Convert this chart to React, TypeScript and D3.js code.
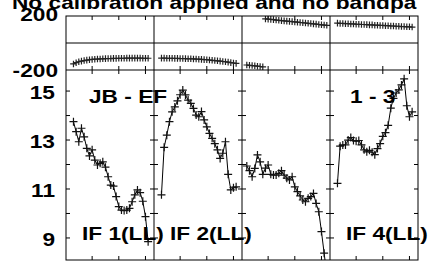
import React from 'react';
import * as d3 from 'd3';

const title = 'No calibration applied and no bandpa';
const baselineLabel = 'JB - EF';
const sourceLabel = '1 - 3';
const ifLabels = ['IF 1(LL)', 'IF 2(LL)', '', 'IF 4(LL)'];
const firstChannel = [3, 3, 2, 3];

const amp1 = [13.75, 13.34, 12.93, 13.48, 13.13, 12.66, 12.35, 12.6, 12.18, 11.98, 12.05, 12.11, 11.89, 11.5, 11.16, 11.12, 10.69, 10.28, 10.14, 10.12, 10.14, 10.21, 10.48, 10.76, 10.96, 10.85, 10.5, 9.87, 8.85];
const amp2 = [10.76, 12.7, 13.2, 13.75, 14.15, 14.35, 14.6, 14.85, 15.04, 14.84, 14.63, 14.5, 14.29, 14.02, 13.95, 14.16, 13.82, 13.54, 13.27, 13.07, 12.85, 12.6, 12.25, 12.46, 12.93, 11.6, 10.96, 11.05, 11.09];
const amp3 = [11.94, 11.75, 11.5, 11.84, 12.39, 12.11, 11.6, 11.85, 11.98, 11.6, 11.57, 11.57, 11.64, 11.75, 11.57, 11.44, 11.37, 11.5, 11.09, 10.89, 10.72, 10.55, 10.48, 10.62, 10.69, 10.82, 10.41, 10.07, 9.26, 8.38, 7.5];
const amp4 = [11.23, 12.75, 12.8, 12.8, 13.0, 13.1, 12.98, 12.95, 12.98, 12.8, 12.6, 12.52, 12.58, 12.5, 12.4, 12.65, 12.85, 13.15, 13.3, 13.6, 14.3, 14.7, 14.92, 15.05, 15.25, 15.5, 14.4, 13.95, 14.15];

const phase1 = [-155, -146, -139, -134, -130, -127, -124, -122, -120, -119, -118, -117, -116, -115, -115, -114, -114, -113, -113, -113, -112, -112, -112, -112, -112, -112, -113, -113, -113];
const phase2 = [-112, -112, -113, -113, -113, -114, -114, -115, -115, -116, -117, -117, -118, -119, -120, -121, -123, -124, -126, -128, -130, -132, -134, -137, -139, -142, -145, -148, -151];
const phase3 = [-163, -165, -167, -169, -172, -174, -177, 179, 177, 175, 173, 170, 168, 166, 164, 162, 160, 158, 156, 154, 152, 150, 148, 146, 144, 142, 140, 137, 135, 133, 131];
const phase4 = [147, 145, 145, 143, 143, 141, 141, 139, 139, 137, 137, 136, 134, 134, 132, 132, 130, 130, 128, 128, 126, 126, 124, 124, 122, 122, 120, 120, 118];

const ampSeries = [amp1, amp2, amp3, amp4];
const phaseSeries = [phase1, phase2, phase3, phase4];
const ampTicks = [9, 10, 11, 12, 13, 14, 15];
const ampTickLabels = [15, 13, 11, 9];
const phaseTickLabels = [200, -200];
const channelTicks = [10, 20, 30];

const plotLeft = 66;
const panelW = 88;
const phaseTop = 16;
const phaseBottom = 70;
const ampBottom = 260;
const plotRight = plotLeft + panelW * 4;
const SX = 1.26;
const font = "'Liberation Sans', Arial, Helvetica, sans-serif";

const yAmp = d3.scaleLinear().domain([8.1, 15.86]).range([ampBottom, phaseBottom]);
const yPhase = d3.scaleLinear().domain([-200, 200]).range([phaseBottom, phaseTop]);

function Label({ x, y, anchor = 'start', children }: any) {
  return (
    <text transform={`translate(${x},${y}) scale(${SX},1)`} textAnchor={anchor}
      fontFamily={font} fontWeight="bold" fontSize={18} fill="#000">{children}</text>
  );
}

function plus(x: number, y: number, s: number) {
  return `M${x - s},${y}H${x + s}M${x},${y - s}V${y + s}`;
}

function Panel({ i }: { i: number }) {
  const x0 = plotLeft + i * panelW;
  const x = d3.scaleLinear().domain([0.2, 33.2]).range([x0, x0 + panelW]);
  const amp = ampSeries[i].map((v, k) => ({ ch: firstChannel[i] + k, v }));
  const ph = phaseSeries[i].map((v, k) => ({ ch: firstChannel[i] + k, v }));
  const ampLine = d3.line<any>().x(d => x(d.ch)).y(d => yAmp(d.v));
  // break the phase line where it wraps
  const phSegs: any[][] = [];
  ph.forEach((d, k) => {
    if (k === 0 || Math.abs(d.v - ph[k - 1].v) > 180) phSegs.push([]);
    phSegs[phSegs.length - 1].push(d);
  });
  const phLine = d3.line<any>().x(d => x(d.ch)).y(d => yPhase(d.v));
  const tk = 4;
  return (
    <g>
      <defs>
        <clipPath id={`clipA${i}`}><rect x={x0} y={phaseBottom} width={panelW} height={ampBottom - phaseBottom} /></clipPath>
        <clipPath id={`clipP${i}`}><rect x={x0} y={phaseTop} width={panelW} height={phaseBottom - phaseTop} /></clipPath>
      </defs>
      {channelTicks.map(t => (
        <path key={t} stroke="#000" strokeWidth={1}
          d={`M${x(t)},${phaseTop}v${tk}M${x(t)},${phaseBottom - tk}v${tk * 2}M${x(t)},${ampBottom}v${-tk}`} />
      ))}
      {ampTicks.map(t => (
        <path key={t} stroke="#000" strokeWidth={1}
          d={`M${x0},${yAmp(t)}h${tk}M${x0 + panelW},${yAmp(t)}h${-tk}`} />
      ))}
      <g clipPath={`url(#clipP${i})`}>
        {phSegs.map((s, k) => <path key={k} d={phLine(s) || ''} fill="none" stroke="#000" strokeWidth={1} />)}
        <path d={ph.map(d => plus(x(d.ch), yPhase(d.v), 3.3)).join('')} stroke="#222" strokeWidth={1.2} fill="none" />
      </g>
      <g clipPath={`url(#clipA${i})`}>
        <path d={ampLine(amp) || ''} fill="none" stroke="#000" strokeWidth={1} />
        <path d={amp.map(d => plus(x(d.ch), yAmp(d.v), 4)).join('')} stroke="#111" strokeWidth={1.2} fill="none" />
      </g>
      {ifLabels[i] && <Label x={x0 + 16} y={240}>{ifLabels[i]}</Label>}
    </g>
  );
}

export default function App() {
  return (
    <svg width={432} height={262} style={{ position: 'absolute', left: 0, top: 0, background: '#fff' }}>
      <rect width={432} height={262} fill="#fff" />
      <Label x={12} y={8.5}>{title}</Label>
      {[0, 1, 2, 3].map(i => <Panel key={i} i={i} />)}
      <rect x={plotLeft} y={phaseTop} width={plotRight - plotLeft} height={ampBottom - phaseTop} fill="none" stroke="#000" strokeWidth={1} />
      <line x1={plotLeft} x2={plotRight} y1={phaseBottom} y2={phaseBottom} stroke="#000" />
      <line x1={plotLeft} x2={plotRight} y1={yPhase(0)} y2={yPhase(0)} stroke="#000" />
      {[1, 2, 3].map(k => (
        <line key={k} x1={plotLeft + k * panelW} x2={plotLeft + k * panelW} y1={phaseTop} y2={ampBottom} stroke="#000" />
      ))}
      {phaseTickLabels.map(t => (
        <Label key={t} x={58} y={t > 0 ? 21 : yPhase(t) + 7} anchor="end">{t}</Label>
      ))}
      {ampTickLabels.map(t => <Label key={t} x={55} y={yAmp(t) + 8} anchor="end">{t}</Label>)}
      <Label x={89} y={103}>{baselineLabel}</Label>
      <Label x={350} y={103}>{sourceLabel}</Label>
    </svg>
  );
}
